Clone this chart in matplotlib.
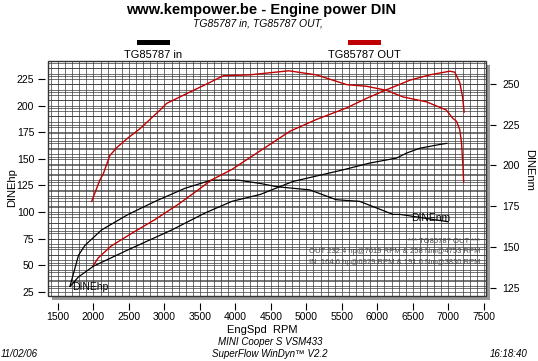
import matplotlib
matplotlib.use("Agg")
import matplotlib.pyplot as plt
import matplotlib.transforms as mtransforms
from matplotlib.patches import Rectangle
import numpy as np

plt.rcParams['font.family'] = ['Liberation Sans', 'DejaVu Sans']

# ---- data ----
out_hp_rpm = [1990, 2070, 2250, 2540, 2870, 3190, 3480, 3660, 3950, 4200, 4770, 5140,
              5570, 5850, 6130, 6460, 6740, 7020, 7090, 7160, 7200, 7222]
out_hp = [49, 57, 68, 80, 93, 107, 121, 130, 140, 151, 176, 187,
          198, 207, 215, 224, 229, 232.4, 231.5, 222, 208, 194]

out_nm_rpm = [1975, 2090, 2140, 2230, 2330, 2490, 2655, 2940, 3030, 3360, 3600, 3830,
              4200, 4753, 5140, 5570, 5850, 6130, 6360, 6690, 6970, 7060, 7115, 7160,
              7185, 7205, 7215]
out_nm = [178, 191, 195, 206, 211, 217, 222.5, 234, 238, 245, 250, 255,
          255.5, 258, 255.5, 249.5, 248.5, 246, 242, 239, 234, 229, 227, 222,
          214, 200, 190]

in_hp_rpm = [1670, 1790, 2000, 2490, 3100, 3570, 3950, 4350, 4810, 5520, 5890, 6270,
             6410, 6600, 6880, 6979]
in_hp = [30, 39, 49, 64.5, 83, 99, 110, 116.5, 128.7, 139.7, 146, 150.7,
         155.4, 160, 163.5, 164.6]

in_nm_rpm = [1670, 1790, 1880, 2115, 2490, 2870, 3290, 3660, 3830, 4040, 4345, 4580,
             5050, 5420, 5750, 6220, 6320, 6997]
in_nm = [126, 145, 151, 160.5, 170, 178, 186, 191, 191.0, 191, 189, 187,
         185, 179, 178, 170, 170, 165.5]

x_ticks = [1500, 2000, 2500, 3000, 3500, 4000, 4500, 5000, 5500, 6000, 6500, 7000, 7500]
hp_ticks = [25, 50, 75, 100, 125, 150, 175, 200, 225]
nm_ticks = [125, 150, 175, 200, 225, 250]

series_names = ["TG85787 in", "TG85787 OUT"]
series_colors = ["black", "#c00000"]

# ---- figure ----
W, H = 538, 361
fig = plt.figure(figsize=(W / 100, H / 100), dpi=100)
L, R, T, B = 48, 486, 61, 296
pos = [L / W, 1 - B / H, (R - L) / W, (B - T) / H]

# shadow
sh = 4
fig.patches.append(Rectangle(((L + sh) / W, 1 - (B + sh) / H), (R - L) / W, (B - T) / H,
                             transform=fig.transFigure, facecolor="#9a9a9a",
                             edgecolor="none", zorder=-5))

ax2 = fig.add_axes(pos)          # back: grids + Nm curves
ax1 = fig.add_axes(pos, sharex=ax2)  # front: hp curves, x/left ticks
ax2.set_zorder(1)
ax1.set_zorder(2)
ax1.patch.set_visible(False)
ax2.patch.set_facecolor("white")

ax1.set_xlim(1360, 7530)
ax1.set_ylim(21, 242)
ax2.set_ylim(120, 264)

# grids on the back axes
gc = "#3a3a3a"
for r in range(1400, 7600, 100):
    ax2.axvline(r, color=gc, lw=0.5, zorder=1)
trans_hp = mtransforms.blended_transform_factory(ax2.transAxes, ax1.transData)
for v in np.arange(20, 245, 5):
    ax2.plot([0, 1], [v, v], transform=trans_hp, color=gc, lw=0.5, zorder=1)
for v in np.arange(120, 266, 5):
    ax2.axhline(v, color=gc, lw=0.5, zorder=1)

# curves
ax2.plot(out_nm_rpm, out_nm, color=series_colors[1], lw=1.0, zorder=3)
ax2.plot(in_nm_rpm, in_nm, color=series_colors[0], lw=0.9, zorder=3)
ax1.plot(out_hp_rpm, out_hp, color=series_colors[1], lw=1.0, zorder=3)
ax1.plot(in_hp_rpm, in_hp, color=series_colors[0], lw=0.9, zorder=3)

# frame
ax1.add_patch(Rectangle((0, 0), 1, 1, transform=ax1.transAxes, fill=False,
                        edgecolor="#333333", lw=1.0, zorder=5, clip_on=False))

for ax in (ax1, ax2):
    for s in ax.spines.values():
        s.set_visible(False)
ax1.spines['bottom'].set_position(('outward', 5))
ax1.spines['left'].set_position(('outward', 2))
ax2.spines['right'].set_position(('outward', 3))

ax1.set_xticks(x_ticks)
ax1.set_yticks(hp_ticks)
ax1.tick_params(axis='both', direction='out', length=5, width=0.8, labelsize=7.5,
                colors='black', pad=3)
ax1.tick_params(axis='x', pad=1.5)
ax2.yaxis.tick_right()
ax2.set_yticks(nm_ticks)
ax2.tick_params(axis='y', direction='out', length=4, width=0.8, labelsize=7.5, pad=5)
ax2.tick_params(axis='x', bottom=False, labelbottom=False)

# curve labels
ax1.text(1700, 29.5, "DINEhp", fontsize=7.5, va='center', ha='left', zorder=6)
ax2.text(6480, 167.5, "DINEnm", fontsize=7.5, va='center', ha='left', zorder=6)

# annotation block
ax2.text(7450, 153.5, "*** TG85787 OUT ***", fontsize=5.5, color="#444444",
         ha='right', va='center', zorder=6)
ax2.text(7450, 147.2, "OUT 232.4 hp@7019 RPM & 258 Nm@4753 RPM", fontsize=5.5,
         color="#444444", ha='right', va='center', zorder=6)
ax2.text(7450, 140.5, "IN  164.6 hp@6979 RPM & 191.0 Nm@3830 RPM", fontsize=5.5,
         color="#444444", ha='right', va='center', zorder=6)

# titles & texts
fig.text(261 / W, 1 - 10 / H, "www.kempower.be - Engine power DIN", fontsize=10.5,
         fontweight='bold', ha='center', va='center')
fig.text(258 / W, 1 - 24 / H, "TG85787 in, TG85787 OUT,", fontsize=7.5,
         style='italic', ha='center', va='center')

# legend bars and labels
leg_x = [153, 364]
for cx, name, col in zip(leg_x, series_names, series_colors):
    fig.patches.append(Rectangle(((cx - 16) / W, 1 - 45 / H), 33 / W, 5 / H,
                                 transform=fig.transFigure, facecolor=col,
                                 edgecolor='none'))
    fig.text(cx / W, 1 - 55 / H, name, fontsize=8, ha='center', va='center')

fig.text(12 / W, 1 - 188 / H, "DINEhp", fontsize=8, rotation=90,
         ha='center', va='center')
fig.text(529 / W, 1 - 170 / H, "DINEnm", fontsize=8, rotation=-90,
         ha='center', va='center')

fig.text(262 / W, 1 - 330 / H, "EngSpd  RPM", fontsize=8, ha='center', va='center')
fig.text(270 / W, 1 - 342 / H, "MINI Cooper S VSM433", fontsize=7, style='italic',
         ha='center', va='center')
fig.text(270 / W, 1 - 354 / H, "SuperFlow WinDyn\u2122 V2.2", fontsize=7, style='italic',
         ha='center', va='center')
fig.text(1 / W, 1 - 354 / H, "11/02/06", fontsize=7, style='italic',
         ha='left', va='center')
fig.text(528 / W, 1 - 354 / H, "16:18:40", fontsize=7, style='italic',
         ha='right', va='center')

fig.savefig("out.png", dpi=100)
